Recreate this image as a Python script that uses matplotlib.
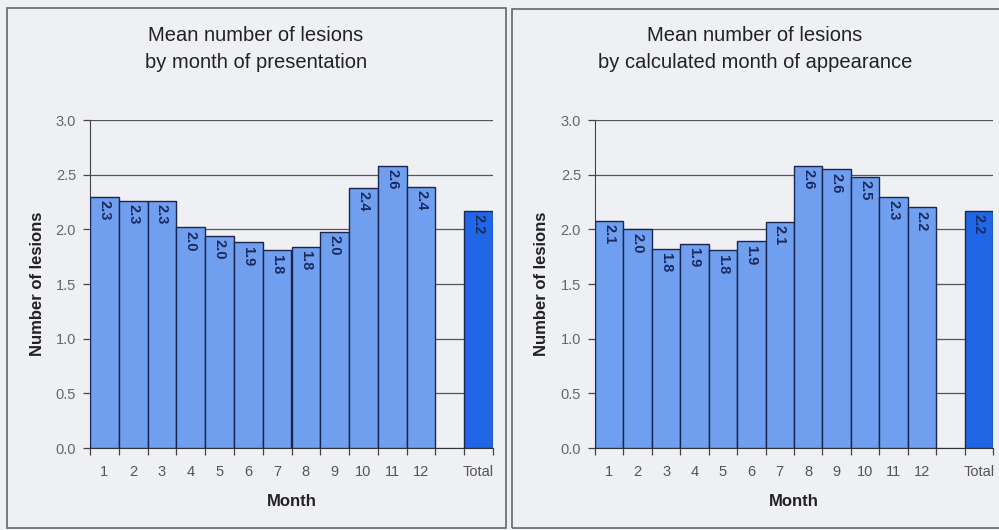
import matplotlib.pyplot as plt
import numpy as np
from matplotlib.patches import Rectangle

# Dati
categorie = ['1', '2', '3', '4', '5', '6', '7', '8', '9', '10', '11', '12', '', 'Total']
presentazione = [2.30, 2.26, 2.26, 2.02, 1.94, 1.88, 1.81, 1.84, 1.98, 2.38, 2.58, 2.39]
presentazione_lab = ['2.3', '2.3', '2.3', '2.0', '2.0', '1.9', '1.8', '1.8', '2.0', '2.4', '2.6', '2.4']
comparsa = [2.08, 2.00, 1.82, 1.87, 1.81, 1.89, 2.07, 2.58, 2.55, 2.48, 2.30, 2.20]
comparsa_lab = ['2.1', '2.0', '1.8', '1.9', '1.8', '1.9', '2.1', '2.6', '2.6', '2.5', '2.3', '2.2']
totale = 2.17
totale_lab = '2.2'

titoli = ["Mean number of lesions\nby month of presentation",
          "Mean number of lesions\nby calculated month of appearance"]

plt.rcParams['font.family'] = ['Liberation Sans', 'DejaVu Sans']

bg = '#eef0f3'
col_mese = '#6f9fee'
col_tot = '#2066e6'
col_bordo = '#1a2550'
col_testo = '#1b2a5e'

fig = plt.figure(figsize=(9.99, 5.30), dpi=100)
fig.patch.set_facecolor(bg)

W, H = 999, 530


def px_rect(x0, y0, x1, y1):
    # da pixel (origine in alto) a frazioni di figura
    return [x0 / W, 1 - y1 / H, (x1 - x0) / W, (y1 - y0) / H]


# cornici dei due pannelli
for (x0, y0, x1, y1) in [(7, 8, 506, 528), (512, 9, 1003, 528)]:
    fig.patches.append(Rectangle((x0 / W, 1 - y1 / H), (x1 - x0) / W, (y1 - y0) / H,
                                 transform=fig.transFigure, fill=False,
                                 edgecolor='#666666', linewidth=1.2, zorder=0))

pannelli = [
    (px_rect(90, 120, 493, 448), presentazione, presentazione_lab, titoli[0], 256),
    (px_rect(595, 120, 993, 448), comparsa, comparsa_lab, titoli[1], 755),
]

for pos, valori, etichette, titolo, xc in pannelli:
    ax = fig.add_axes(pos)
    ax.set_facecolor(bg)

    x = np.arange(len(valori))
    ax.bar(x, valori, width=1.0, color=col_mese, edgecolor=col_bordo, linewidth=1.0, zorder=3)
    ax.bar([13], [totale], width=1.0, color=col_tot, edgecolor=col_bordo, linewidth=1.0, zorder=3)

    for xi, v, lab in zip(list(x) + [13], list(valori) + [totale], list(etichette) + [totale_lab]):
        ax.annotate(lab, (xi, v), xytext=(0, -2.5), textcoords='offset points',
                    rotation=270, ha='center', va='top', fontsize=10.5,
                    fontweight='bold', color=col_testo, zorder=4)

    ax.set_xlim(-0.5, 13.5)
    ax.set_ylim(0, 3.0)
    ax.set_yticks(np.arange(0, 3.01, 0.5))
    ax.set_yticklabels([f'{t:.1f}' for t in np.arange(0, 3.01, 0.5)])
    ax.yaxis.grid(True, color='#555555', linewidth=0.9, zorder=1)
    ax.set_axisbelow(True)

    ax.set_xticks(np.arange(14))
    ax.set_xticklabels(categorie)
    ax.set_xticks(np.arange(-0.5, 14, 1.0), minor=True)
    ax.tick_params(axis='x', which='major', length=0, pad=12, labelsize=10.5, labelcolor='#555555')
    ax.tick_params(axis='x', which='minor', length=5, width=0.9, color='#444444')
    ax.tick_params(axis='y', length=5, width=0.9, color='#444444', pad=5,
                   labelsize=10.5, labelcolor='#666666')

    for s in ['top', 'right']:
        ax.spines[s].set_visible(False)
    ax.spines['left'].set_color('#444444')
    ax.spines['bottom'].set_color('#333333')

    ax.set_xlabel('Month', fontsize=12, fontweight='bold', color='#222222', labelpad=11)
    ax.set_ylabel('Number of lesions', fontsize=12, fontweight='bold', color='#222222', labelpad=8)

    fig.text(xc / W, 1 - 49 / H, titolo, ha='center', va='center', fontsize=14.5,
             color='#222222', linespacing=1.55)

fig.savefig('out.png', dpi=100, facecolor=fig.get_facecolor())
